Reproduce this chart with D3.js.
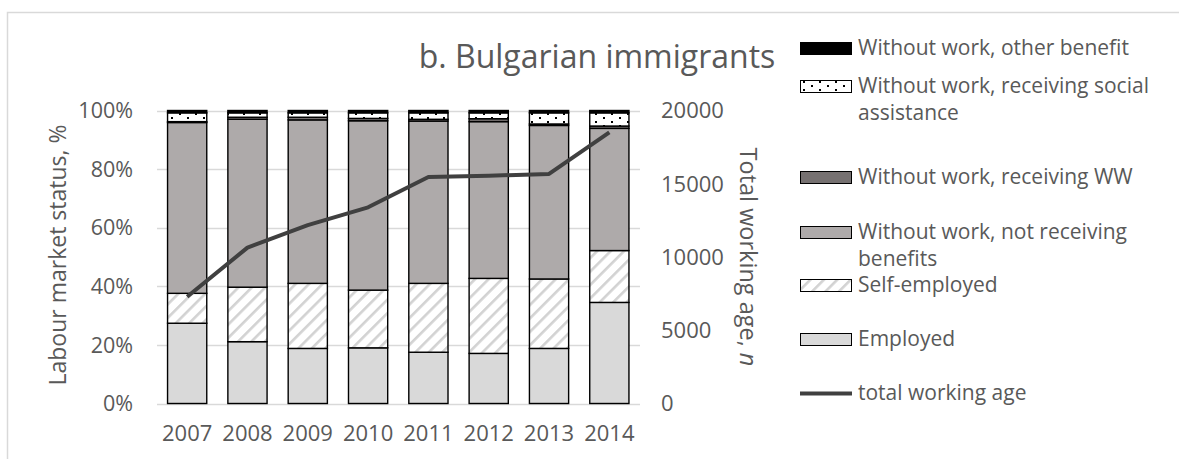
<!DOCTYPE html>
<html>
<head>
<meta charset="utf-8">
<script src="https://cdn.jsdelivr.net/npm/d3@7"></script>
<style>
  html, body { margin: 0; padding: 0; background: #fff; }
  svg { display: block; font-family: "Open Sans", sans-serif; }
</style>
</head>
<body>
<svg id="chart" width="1179" height="459"></svg>
<script>
// Labour market status of Bulgarian immigrants, shares in % per year
const years = ["2007", "2008", "2009", "2010", "2011", "2012", "2013", "2014"];
const employed      = [27.4, 21.1, 18.8, 19.0, 17.5, 17.1, 18.8, 34.5];
const selfEmployed  = [10.2, 18.6, 22.2, 19.7, 23.5, 25.6, 23.7, 17.7];
const notReceiving  = [58.3, 57.3, 55.8, 57.8, 55.4, 53.5, 52.4, 41.7];
const receivingWW   = [0.3, 0.7, 0.9, 0.8, 0.6, 1.0, 0.5, 0.8];
const socialAssist  = [3.0, 1.5, 1.5, 1.9, 2.2, 2.0, 3.8, 4.5];
const otherBenefit  = [0.8, 0.8, 0.8, 0.8, 0.8, 0.8, 0.8, 0.8];
// Total working-age population (right axis)
const totalWorkingAge = [7290, 10640, 12180, 13390, 15460, 15550, 15670, 18510];

const leftTicks  = [0, 20, 40, 60, 80, 100];
const rightTicks = [0, 5000, 10000, 15000, 20000];

const seriesNames = [
  "Employed",
  "Self-employed",
  "Without work, not receiving benefits",
  "Without work, receiving WW",
  "Without work, receiving social assistance",
  "Without work, other benefit"
];
const seriesValues = [employed, selfEmployed, notReceiving, receivingWW, socialAssist, otherBenefit];

const textColor = "#595959";
const gridColor = "#d9d9d9";

const svg = d3.select("#chart");

// Fill patterns
const defs = svg.append("defs");
const hatch = defs.append("pattern")
  .attr("id", "hatch").attr("patternUnits", "userSpaceOnUse")
  .attr("width", 9.5).attr("height", 9.5)
  .attr("patternTransform", "rotate(45)");
hatch.append("rect").attr("width", 9.5).attr("height", 9.5).attr("fill", "#fff");
hatch.append("rect").attr("x", 0).attr("y", 0).attr("width", 2.6).attr("height", 9.5).attr("fill", "#d2d2d2");

const dots = defs.append("pattern")
  .attr("id", "dots").attr("patternUnits", "userSpaceOnUse")
  .attr("width", 16).attr("height", 8);
dots.append("rect").attr("width", 16).attr("height", 8).attr("fill", "#fff");
dots.append("rect").attr("x", 3).attr("y", 1).attr("width", 2).attr("height", 2).attr("fill", "#000");
dots.append("rect").attr("x", 11).attr("y", 5).attr("width", 2).attr("height", 2).attr("fill", "#000");

const fills = ["#d9d9d9", "url(#hatch)", "#aeaaaa", "#767171", "url(#dots)", "#000000"];

// Chart frame
svg.append("path")
  .attr("d", "M7.5,1200 V12.5 H1300")
  .attr("fill", "none").attr("stroke", gridColor).attr("stroke-width", 1.5);

// Scales
const x = d3.scaleBand().domain(years).range([157, 639.5])
  .paddingInner(0.35).paddingOuter(0.175);
const y = d3.scaleLinear().domain([0, 100]).range([403.5, 110.5]);
const y2 = d3.scaleLinear().domain([0, 20000]).range([403.5, 110.5]);

// Gridlines
svg.append("g").selectAll("line").data(leftTicks).join("line")
  .attr("x1", 157).attr("x2", 640)
  .attr("y1", d => Math.round(y(d)) + 0.5).attr("y2", d => Math.round(y(d)) + 0.5)
  .attr("stroke", gridColor).attr("stroke-width", 1.5);

// Stacked bars
const rows = years.map((yr, i) => {
  const r = { year: yr };
  seriesNames.forEach((n, k) => { r[n] = seriesValues[k][i]; });
  return r;
});
const stacked = d3.stack().keys(seriesNames)(rows);

svg.append("g").selectAll("g").data(stacked).join("g")
  .attr("fill", (d, i) => fills[i])
  .selectAll("rect").data(d => d).join("rect")
  .attr("x", d => x(d.data.year))
  .attr("width", x.bandwidth())
  .attr("y", d => y(d[1]))
  .attr("height", d => y(d[0]) - y(d[1]))
  .attr("stroke", "#000").attr("stroke-width", 1.4);

// Total working age line
const line = d3.line()
  .x((d, i) => x(years[i]) + x.bandwidth() / 2)
  .y(d => y2(d));
svg.append("path").datum(totalWorkingAge)
  .attr("d", line)
  .attr("fill", "none").attr("stroke", "#404040")
  .attr("stroke-width", 4).attr("stroke-linejoin", "round");

// Left axis labels
svg.append("g").selectAll("text").data(leftTicks).join("text")
  .attr("x", 133).attr("y", d => y(d))
  .attr("dy", "0.36em").attr("text-anchor", "end")
  .attr("fill", textColor).attr("font-size", 21.5)
  .text(d => d + "%");

// Right axis labels
svg.append("g").selectAll("text").data(rightTicks).join("text")
  .attr("x", 661).attr("y", d => y2(d))
  .attr("dy", "0.36em").attr("text-anchor", "start")
  .attr("fill", textColor).attr("font-size", 22)
  .text(d => d);

// Year labels
svg.append("g").selectAll("text").data(years).join("text")
  .attr("x", d => x(d) + x.bandwidth() / 2).attr("y", 441)
  .attr("text-anchor", "middle")
  .attr("fill", textColor).attr("font-size", 22)
  .text(d => d);

// Axis titles
svg.append("text")
  .attr("transform", "translate(66,255) rotate(-90)")
  .attr("text-anchor", "middle")
  .attr("fill", textColor).attr("font-size", 23)
  .text("Labour market status, %");

const rt = svg.append("text")
  .attr("transform", "translate(740,257) rotate(90)")
  .attr("text-anchor", "middle")
  .attr("fill", textColor).attr("font-size", 23.5);
rt.append("tspan").text("Total working age, ");
rt.append("tspan").attr("font-style", "italic").text("n");

// Title
svg.append("text")
  .attr("x", 597).attr("y", 68)
  .attr("text-anchor", "middle")
  .attr("fill", textColor).attr("font-size", 32)
  .text("b. Bulgarian immigrants");

// Legend
const legendFont = 21;
const legendItems = [
  { lines: ["Without work, other benefit"], fill: fills[5], base: 55 },
  { lines: ["Without work, receiving social", "assistance"], fill: fills[4], base: 93 },
  { lines: ["Without work, receiving WW"], fill: fills[3], base: 184 },
  { lines: ["Without work, not receiving", "benefits"], fill: fills[2], base: 239 },
  { lines: ["Self-employed"], fill: fills[1], base: 292 },
  { lines: ["Employed"], fill: fills[0], base: 346 }
];
const lg = svg.append("g");
legendItems.forEach(it => {
  lg.append("rect")
    .attr("x", 800.5).attr("y", it.base - 12.5)
    .attr("width", 51).attr("height", 12)
    .attr("fill", it.fill).attr("stroke", "#000").attr("stroke-width", 1);
  const t = lg.append("text")
    .attr("x", 858).attr("y", it.base)
    .attr("fill", textColor).attr("font-size", legendFont);
  it.lines.forEach((s, j) => {
    t.append("tspan").attr("x", 858).attr("y", it.base + j * 27).text(s);
  });
});
lg.append("line")
  .attr("x1", 800).attr("x2", 852).attr("y1", 393.5).attr("y2", 393.5)
  .attr("stroke", "#404040").attr("stroke-width", 4);
lg.append("text")
  .attr("x", 858).attr("y", 400)
  .attr("fill", textColor).attr("font-size", legendFont)
  .text("total working age");
</script>
</body>
</html>
